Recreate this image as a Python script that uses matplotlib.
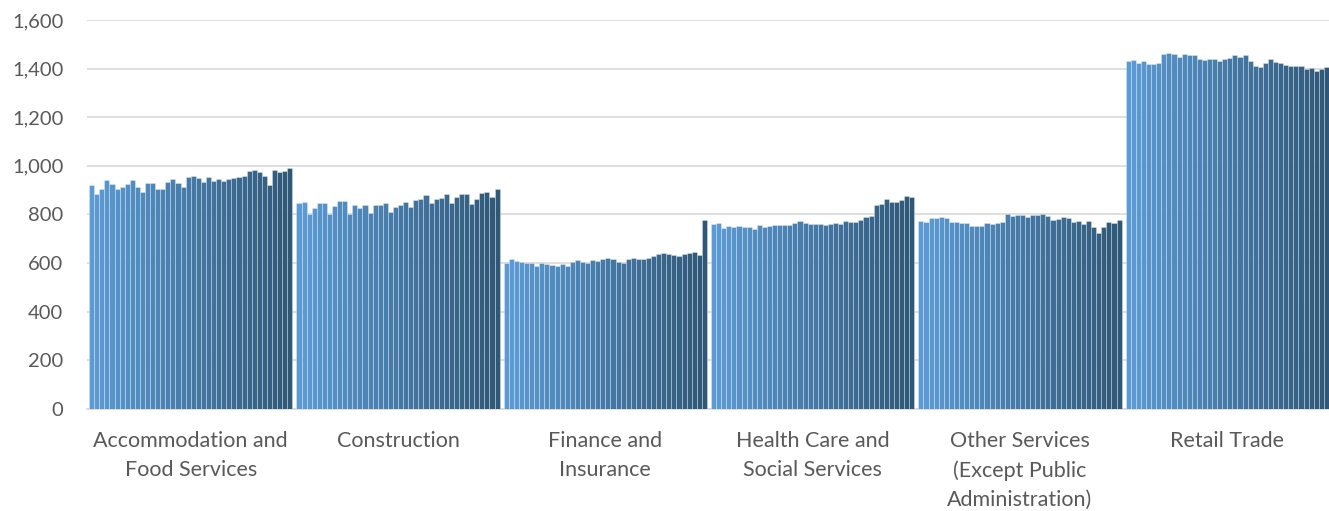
import numpy as np
import matplotlib
matplotlib.use("Agg")
import matplotlib.pyplot as plt
from matplotlib.colors import to_rgb

# Categorias (sectores)
categorias = ["Accommodation and\nFood Services", "Construction", "Finance and\nInsurance",
              "Health Care and\nSocial Services", "Other Services\n(Except Public\nAdministration)",
              "Retail Trade"]

# Valores por sector, 40 periodos cada uno
accommodation = [921, 883, 903, 940, 927, 903, 912, 927, 940, 913, 894, 928, 931, 905, 903, 933,
                 946, 929, 912, 954, 958, 950, 932, 954, 937, 944, 937, 948, 952, 955, 958, 977,
                 981, 976, 958, 922, 985, 974, 978, 990]
construction = [849, 853, 801, 827, 849, 849, 800, 835, 857, 854, 800, 838, 827, 841, 805, 837,
                838, 849, 812, 830, 841, 850, 831, 860, 863, 879, 846, 865, 869, 886, 849, 873,
                884, 886, 844, 865, 888, 894, 871, 905]
finance = [600, 615, 610, 606, 601, 600, 588, 601, 597, 594, 590, 596, 590, 606, 612, 606,
           600, 612, 610, 617, 622, 615, 604, 601, 618, 621, 617, 617, 621, 629, 637, 643,
           636, 634, 630, 636, 643, 646, 632, 779]
health = [761, 766, 746, 752, 750, 754, 748, 747, 740, 758, 750, 754, 755, 758, 756, 756,
          765, 773, 766, 762, 759, 762, 755, 759, 767, 762, 774, 770, 769, 778, 788, 793,
          839, 842, 863, 853, 850, 860, 875, 871]
other = [774, 770, 785, 786, 788, 786, 771, 771, 766, 766, 752, 752, 754, 763, 760, 766,
         771, 800, 793, 797, 797, 790, 799, 797, 800, 792, 778, 782, 788, 786, 771, 775,
         760, 775, 749, 723, 750, 770, 766, 779]
retail = [1431, 1435, 1424, 1430, 1419, 1420, 1424, 1459, 1464, 1460, 1449, 1459, 1454, 1456, 1439, 1434,
          1438, 1438, 1430, 1438, 1442, 1454, 1446, 1456, 1433, 1410, 1408, 1424, 1438, 1427, 1423, 1416,
          1411, 1411, 1411, 1399, 1401, 1389, 1399, 1405]

valores = np.array([accommodation, construction, finance, health, other, retail])
n_cat, n_per = valores.shape

# Colores: degradado de azul claro a azul oscuro
c_ini = np.array(to_rgb("#5b9bd5"))
c_fin = np.array(to_rgb("#2f5878"))

fig = plt.figure(figsize=(13.29, 5.11), dpi=100)
ax = fig.add_axes([0.0655, 0.1996, 0.936, 0.7613])

x = np.arange(n_cat)
ancho_total = 0.98
ancho = ancho_total / n_per
for i in range(n_per):
    t = i / (n_per - 1)
    color = c_ini * (1 - t) + c_fin * t
    pos = x - ancho_total / 2 + ancho * (i + 0.5)
    ax.bar(pos, valores[:, i], width=ancho, color=color,
           edgecolor=(1, 1, 1, 0.3), linewidth=0.7, zorder=3)

ax.set_xlim(-0.5, n_cat - 0.5)
ax.set_ylim(0, 1600)
ax.set_yticks(np.arange(0, 1601, 200))
ax.set_yticklabels([f"{v:,}" for v in range(0, 1601, 200)])
ax.set_xticks(x)
ax.set_xticklabels(categorias)

ax.grid(axis="y", color="#d9d9d9", linewidth=1.2, zorder=0)
for lado in ["top", "right", "left"]:
    ax.spines[lado].set_visible(False)
ax.spines["bottom"].set_color("#d9d9d9")
ax.spines["bottom"].set_linewidth(1.2)
ax.tick_params(axis="both", length=0, labelcolor="#595959", labelfontfamily="Lato")
ax.tick_params(axis="y", labelsize=14.5, pad=17)
ax.tick_params(axis="x", labelsize=15.5, pad=16)
for lbl in ax.get_xticklabels():
    lbl.set_linespacing(1.55)

fig.savefig("out.png", dpi=100)
